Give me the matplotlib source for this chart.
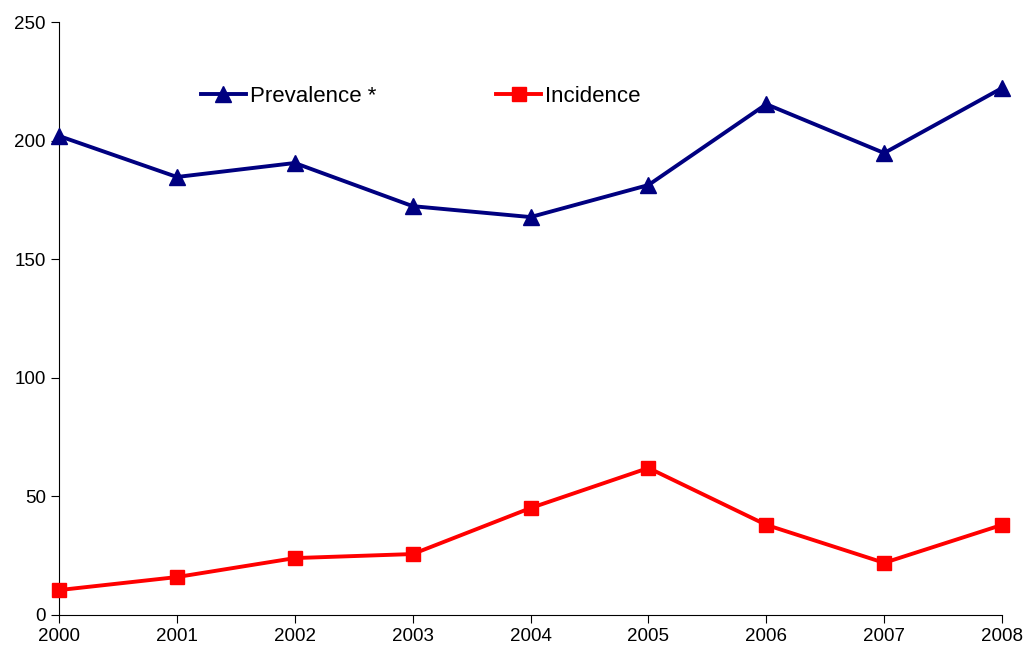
import matplotlib.pyplot as plt

plt.rcParams['font.family'] = ['Liberation Sans', 'DejaVu Sans']

years = [2000, 2001, 2002, 2003, 2004, 2005, 2006, 2007, 2008]
prevalence = [202, 184.7, 190.6, 172.4, 167.8, 181.3, 215.4, 194.8, 222.2]
incidence = [10.5, 16, 24, 25.7, 45.1, 62, 38, 22, 38]

fig = plt.figure(figsize=(10.25, 6.51), dpi=100)
ax = fig.add_axes([0.0576, 0.0553, 0.92, 0.9107])

ax.plot(years, prevalence, color='#000080', lw=2.8, marker='^', markersize=12,
        label='Prevalence *', clip_on=False, zorder=3)
ax.plot(years, incidence, color='#FF0000', lw=2.8, marker='s', markersize=10.5,
        label='Incidence', clip_on=False, zorder=3)

ax.set_xlim(2000, 2008)
ax.set_ylim(0, 250)
ax.set_xticks(years)
ax.set_yticks([0, 50, 100, 150, 200, 250])
for s in ('top', 'right'):
    ax.spines[s].set_visible(False)
ax.spines['left'].set_linewidth(0.8)
ax.spines['bottom'].set_linewidth(0.8)
ax.tick_params(direction='out', length=6, width=0.8, labelsize=13.5)

ax.legend(loc='center left', bbox_to_anchor=(0.1506, 0.875), ncol=2, frameon=False,
          fontsize=16, handlelength=2.0, handletextpad=0.2, columnspacing=5.4,
          borderpad=0, borderaxespad=0)

fig.savefig('out.png', dpi=100)
